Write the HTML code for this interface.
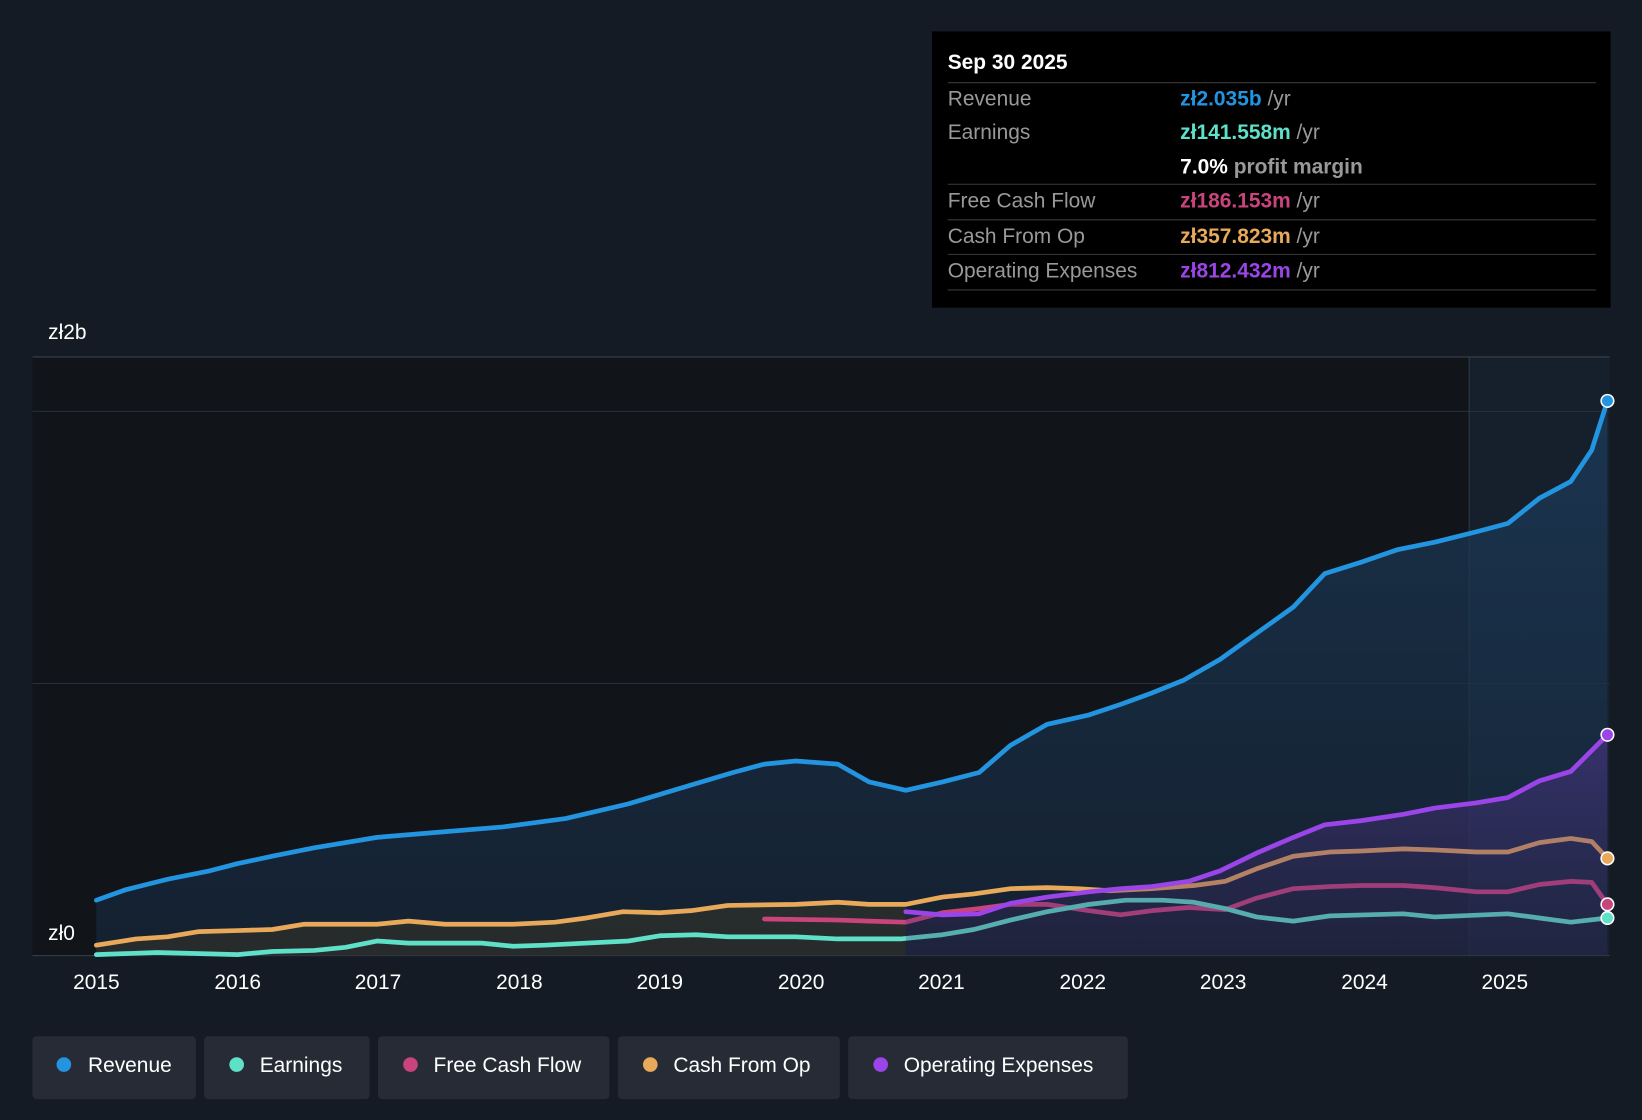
<!DOCTYPE html>
<html><head><meta charset="utf-8"><style>
html,body{margin:0;padding:0;background:#151b24;}
svg{display:block;font-family:"Liberation Sans",sans-serif;}
</style></head><body>
<svg width="1642" height="1120" viewBox="0 0 1568 1070" preserveAspectRatio="none">
<defs>
<linearGradient id="rg" x1="0" y1="0" x2="0" y2="1"><stop offset="0" stop-color="#1c3d5e" stop-opacity="0.7"/><stop offset="1" stop-color="#16263a" stop-opacity="0.7"/></linearGradient>
<linearGradient id="og" x1="0" y1="0" x2="0" y2="1"><stop offset="0" stop-color="#5a3aa0" stop-opacity="0.45"/><stop offset="1" stop-color="#3a2a60" stop-opacity="0.25"/></linearGradient>
</defs>
<rect width="1568" height="1070" fill="#151b24"/>
<rect x="31" y="341" width="1372" height="572" fill="#111419"/>
<rect x="1403" y="341" width="134" height="572" fill="#16202c"/>
<line x1="31" y1="341" x2="1537" y2="341" stroke="#3a404a"/>
<line x1="31" y1="393" x2="1537" y2="393" stroke="#2a2f38"/>
<line x1="31" y1="653" x2="1537" y2="653" stroke="#2a2f38"/>
<line x1="31" y1="913" x2="1537" y2="913" stroke="#3a404a"/>
<line x1="1403" y1="341" x2="1403" y2="913" stroke="#2e3a48"/>
<text x="46" y="324" fill="#fff" font-size="20">zł2b</text>
<text x="46" y="898" fill="#fff" font-size="20">zł0</text>
<polygon fill="url(#rg)" points="92,913 92,860 120,850 160,840 200,832 227,825 260,818 300,810 360,800 420,795 480,790 540,782 600,768 660,750 700,738 730,730 760,727 800,730 830,747 865,755 900,747 935,738 965,712 1000,692 1040,683 1070,673 1100,662 1130,650 1165,630 1200,605 1235,580 1265,548 1300,537 1335,525 1370,518 1410,508 1440,500 1470,476 1500,460 1520,430 1535,383 1535,913"/>
<polygon fill="#3a3628" opacity="0.5" points="92,913 92,903 130,897 160,895 190,890 227,889 260,888 290,883 360,883 390,880 425,883 490,883 530,881 560,877 595,871 630,872 660,870 695,865 760,864 800,862 830,864 865,864 865,913"/>
<g fill="none" stroke-width="4.5" stroke-linejoin="round" stroke-linecap="round">
<polyline stroke="#2394e0" points="92,860 120,850 160,840 200,832 227,825 260,818 300,810 360,800 420,795 480,790 540,782 600,768 660,750 700,738 730,730 760,727 800,730 830,747 865,755 900,747 935,738 965,712 1000,692 1040,683 1070,673 1100,662 1130,650 1165,630 1200,605 1235,580 1265,548 1300,537 1335,525 1370,518 1410,508 1440,500 1470,476 1500,460 1520,430 1535,383"/>
<polyline stroke="#e8a95a" points="92,903 130,897 160,895 190,890 227,889 260,888 290,883 360,883 390,880 425,883 490,883 530,881 560,877 595,871 630,872 660,870 695,865 760,864 800,862 830,864 865,864 900,857 930,854 965,849 1000,848 1030,849 1060,851 1100,849 1140,846 1170,842 1200,830 1235,818 1270,814 1300,813 1340,811 1370,812 1410,814 1440,814 1470,805 1500,801 1520,804 1535,820"/>
<polyline stroke="#c9447d" points="730,878 800,879 830,880 865,881 900,872 935,868 965,864 1000,864 1040,870 1070,874 1100,870 1135,867 1170,869 1200,858 1235,849 1270,847 1300,846 1340,846 1370,848 1410,852 1440,852 1470,845 1500,842 1520,843 1535,864"/>
<polyline stroke="#5fe0c8" points="92,912 150,910 227,912 260,909 300,908 330,905 360,899 390,901 460,901 490,904 520,903 600,899 630,894 665,893 695,895 760,895 800,897 860,897 900,893 930,888 965,879 1000,871 1040,864 1075,860 1110,860 1140,862 1170,868 1200,876 1235,880 1270,875 1340,873 1370,876 1440,873 1470,877 1500,881 1535,877"/>
</g>
<polygon fill="url(#og)" points="865,913 865,871 900,874 935,873 965,863 1000,857 1040,852 1070,849 1100,847 1135,842 1165,832 1200,815 1235,800 1265,788 1300,784 1340,778 1370,772 1410,767 1440,762 1470,746 1500,737 1535,702 1535,913"/>
<polyline fill="none" stroke-width="4.5" stroke-linejoin="round" stroke-linecap="round" stroke="#9b45e8" points="865,871 900,874 935,873 965,863 1000,857 1040,852 1070,849 1100,847 1135,842 1165,832 1200,815 1235,800 1265,788 1300,784 1340,778 1370,772 1410,767 1440,762 1470,746 1500,737 1535,702"/>
<g stroke="#fff" stroke-width="1.5">
<circle cx="1535" cy="383" r="6" fill="#2394e0"/>
<circle cx="1535" cy="702" r="6" fill="#9b45e8"/>
<circle cx="1535" cy="820" r="6" fill="#e8a95a"/>
<circle cx="1535" cy="864" r="6" fill="#c9447d"/>
<circle cx="1535" cy="877" r="6" fill="#5fe0c8"/>
</g>
<g fill="#fff" font-size="20" text-anchor="middle">
<text x="92" y="945">2015</text><text x="227" y="945">2016</text><text x="361" y="945">2017</text><text x="496" y="945">2018</text><text x="630" y="945">2019</text><text x="765" y="945">2020</text><text x="899" y="945">2021</text><text x="1034" y="945">2022</text><text x="1168" y="945">2023</text><text x="1303" y="945">2024</text><text x="1437" y="945">2025</text>
</g>
<rect x="890" y="30" width="648" height="264" fill="#000"/>
<text x="905" y="66" fill="#fff" font-size="20" font-weight="bold">Sep 30 2025</text>
<g stroke="#3a3a3a"><line x1="905" y1="79" x2="1524" y2="79"/><line x1="905" y1="176" x2="1524" y2="176"/><line x1="905" y1="210" x2="1524" y2="210"/><line x1="905" y1="243" x2="1524" y2="243"/><line x1="905" y1="277" x2="1524" y2="277"/></g>
<g font-size="20" fill="#999">
<text x="905" y="101">Revenue</text><text x="905" y="133">Earnings</text><text x="905" y="198">Free Cash Flow</text><text x="905" y="232">Cash From Op</text><text x="905" y="265">Operating Expenses</text>
</g>
<g font-size="20" font-weight="bold">
<text x="1127" y="101" fill="#2394e0">zł2.035b <tspan fill="#999" font-weight="normal">/yr</tspan></text>
<text x="1127" y="133" fill="#5fe0c8">zł141.558m <tspan fill="#999" font-weight="normal">/yr</tspan></text>
<text x="1127" y="166" fill="#fff">7.0% <tspan fill="#999">profit margin</tspan></text>
<text x="1127" y="198" fill="#c9447d">zł186.153m <tspan fill="#999" font-weight="normal">/yr</tspan></text>
<text x="1127" y="232" fill="#e8a95a">zł357.823m <tspan fill="#999" font-weight="normal">/yr</tspan></text>
<text x="1127" y="265" fill="#9b45e8">zł812.432m <tspan fill="#999" font-weight="normal">/yr</tspan></text>
</g>
<g font-size="20" fill="#fff">
<rect x="31" y="990" width="156" height="60" rx="4" fill="#262b36"/><circle cx="61" cy="1017" r="7" fill="#2394e0"/><text x="84" y="1024">Revenue</text>
<rect x="195" y="990" width="158" height="60" rx="4" fill="#262b36"/><circle cx="226" cy="1017" r="7" fill="#5fe0c8"/><text x="248" y="1024">Earnings</text>
<rect x="361" y="990" width="221" height="60" rx="4" fill="#262b36"/><circle cx="392" cy="1017" r="7" fill="#c9447d"/><text x="414" y="1024">Free Cash Flow</text>
<rect x="590" y="990" width="212" height="60" rx="4" fill="#262b36"/><circle cx="621" cy="1017" r="7" fill="#e8a95a"/><text x="643" y="1024">Cash From Op</text>
<rect x="810" y="990" width="267" height="60" rx="4" fill="#262b36"/><circle cx="841" cy="1017" r="7" fill="#9b45e8"/><text x="863" y="1024">Operating Expenses</text>
</g>
</svg>
</body></html>
